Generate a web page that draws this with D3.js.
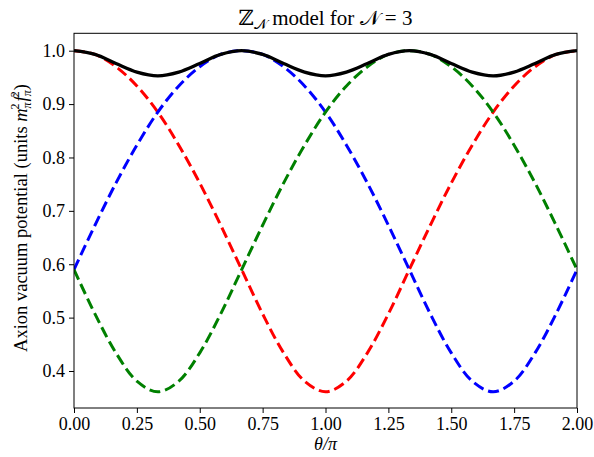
<!DOCTYPE html>
<html>
<head>
<meta charset="utf-8">
<script src="https://cdn.jsdelivr.net/npm/d3@7"></script>
<style>
  body { margin: 0; background: #fff; }
  text { font-family: "Liberation Serif", "DejaVu Serif", serif; fill: #000; }
</style>
</head>
<body>
<div id="chart"></div>
<script>
// theta / pi sample points (every 1/12)
const thetaVals = d3.range(25).map(k => k / 12);

// values
const redVals = [1.000, 0.993, 0.970, 0.934, 0.885, 0.823, 0.752, 0.673, 0.590, 0.507, 0.434, 0.381, 0.361,
                 0.381, 0.434, 0.507, 0.590, 0.673, 0.752, 0.823, 0.885, 0.934, 0.970, 0.993, 1.000];
const blueVals = [0.590, 0.673, 0.752, 0.823, 0.885, 0.934, 0.970, 0.993, 1.000, 0.993, 0.970, 0.934, 0.885,
                  0.823, 0.752, 0.673, 0.590, 0.507, 0.434, 0.381, 0.361, 0.381, 0.434, 0.507, 0.590];
const greenVals = [0.590, 0.507, 0.434, 0.381, 0.361, 0.381, 0.434, 0.507, 0.590, 0.673, 0.752, 0.823, 0.885,
                   0.934, 0.970, 0.993, 1.000, 0.993, 0.970, 0.934, 0.885, 0.823, 0.752, 0.673, 0.590];
const blackVals = [1.000, 0.993, 0.976, 0.960, 0.953, 0.960, 0.976, 0.993, 1.000, 0.993, 0.976, 0.960, 0.953,
                   0.960, 0.976, 0.993, 1.000, 0.993, 0.976, 0.960, 0.953, 0.960, 0.976, 0.993, 1.000];

const xTicks = [0, 0.25, 0.5, 0.75, 1.0, 1.25, 1.5, 1.75, 2.0];
const yTicks = [0.4, 0.5, 0.6, 0.7, 0.8, 0.9, 1.0];

const width = 594, height = 457;
const margin = {top: 33.3, right: 17, bottom: 49, left: 74};

const svg = d3.select("#chart").append("svg")
    .attr("width", width)
    .attr("height", height);

const x = d3.scaleLinear().domain([0, 2]).range([margin.left, width - margin.right]);
const y = d3.scaleLinear().domain([0.3307, 1.0326]).range([height - margin.bottom, margin.top]);

// curves
const line = d3.line()
    .x((d, i) => x(thetaVals[i]))
    .y(d => y(d))
    .curve(d3.curveCatmullRom.alpha(0.5));

const series = [
    {vals: redVals, color: "#ff0000", dash: "11,5", w: 3},
    {vals: blueVals, color: "#0000ff", dash: "11,5", w: 3},
    {vals: greenVals, color: "#008000", dash: "11,5", w: 3},
    {vals: blackVals, color: "#000000", dash: null, w: 3.3}
];

svg.append("defs").append("clipPath").attr("id", "clip")
    .append("rect")
    .attr("x", margin.left).attr("y", margin.top)
    .attr("width", width - margin.left - margin.right)
    .attr("height", height - margin.top - margin.bottom);

const plot = svg.append("g").attr("clip-path", "url(#clip)");
series.forEach(s => {
    plot.append("path")
        .datum(s.vals)
        .attr("d", line)
        .attr("fill", "none")
        .attr("stroke", s.color)
        .attr("stroke-width", s.w)
        .attr("stroke-dasharray", s.dash);
});

// frame
svg.append("rect")
    .attr("x", margin.left).attr("y", margin.top)
    .attr("width", width - margin.left - margin.right)
    .attr("height", height - margin.top - margin.bottom)
    .attr("fill", "none")
    .attr("stroke", "#000")
    .attr("stroke-width", 1);

// axes
const xAxis = svg.append("g")
    .attr("transform", "translate(0," + (height - margin.bottom) + ")")
    .call(d3.axisBottom(x).tickValues(xTicks).tickFormat(d3.format(".2f")).tickSize(5).tickPadding(4));
const yAxis = svg.append("g")
    .attr("transform", "translate(" + margin.left + ",0)")
    .call(d3.axisLeft(y).tickValues(yTicks).tickFormat(d3.format(".1f")).tickSize(5).tickPadding(4));

[xAxis, yAxis].forEach(a => {
    a.select(".domain").remove();
    a.selectAll("line").attr("stroke", "#000");
    a.selectAll("text").style("font-size", "18px").style("font-family", "Liberation Serif");
});

// title
const title = svg.append("text")
    .attr("x", (margin.left + width - margin.right) / 2)
    .attr("y", 25)
    .attr("text-anchor", "middle")
    .style("font-size", "21px");
title.append("tspan").text("ℤ");
title.append("tspan").attr("dy", 4).style("font-size", "14px").text("𝒩");
title.append("tspan").attr("dy", -4).text(" model for ");
title.append("tspan").text("𝒩");
title.append("tspan").text(" = 3");

// x label
svg.append("text")
    .attr("x", (margin.left + width - margin.right) / 2)
    .attr("y", 450)
    .attr("text-anchor", "middle")
    .style("font-size", "18px")
    .style("font-style", "italic")
    .text("θ/π");

// y label
const yl = svg.append("text")
    .attr("transform", "translate(27,218) rotate(-90)")
    .attr("text-anchor", "middle")
    .style("font-size", "18.5px");
yl.append("tspan").text("Axion vacuum potential (units ");
yl.append("tspan").style("font-style", "italic").text("m");
yl.append("tspan").attr("dy", 4).style("font-size", "12px").style("font-style", "italic").text("π");
yl.append("tspan").attr("dy", -12).attr("dx", -7).style("font-size", "12px").text("2");
yl.append("tspan").attr("dy", 8).attr("dx", 2).style("font-style", "italic").text("f");
yl.append("tspan").attr("dy", 4).style("font-size", "12px").style("font-style", "italic").text("π");
yl.append("tspan").attr("dy", -12).attr("dx", -7).style("font-size", "12px").text("2");
yl.append("tspan").attr("dy", 8).attr("dx", 1).text(")");
</script>
</body>
</html>
